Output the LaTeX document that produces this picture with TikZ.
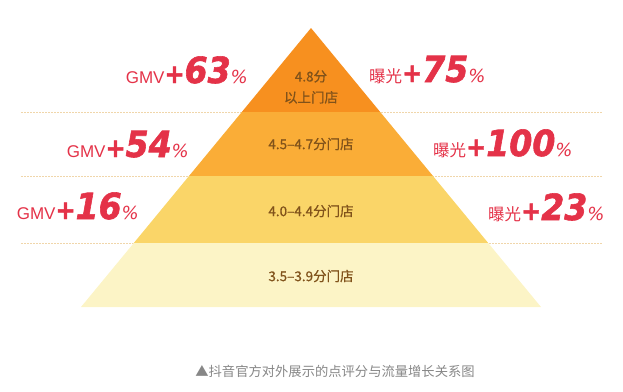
\documentclass[tikz,border=0pt]{standalone}
\usepackage{fontspec}
\usepackage{tikz}
\setmainfont{Noto Sans CJK SC}
\newfontfamily\tierfont{Noto Sans CJK SC}[FakeBold=0.6]
\newfontfamily\latinfont{Liberation Sans}
\newfontfamily\numfont{DejaVu Sans Bold Oblique}[FakeBold=1.6, FakeStretch=0.92]
\newfontfamily\pctfont{DejaVu Sans Oblique}

\definecolor{gainred}{RGB}{228,50,72}
\definecolor{tierA}{RGB}{247,144,31}
\definecolor{tierB}{RGB}{250,173,55}
\definecolor{tierC}{RGB}{250,213,104}
\definecolor{tierD}{RGB}{252,244,198}
\definecolor{tiertext}{RGB}{128,82,26}
\definecolor{guideline}{RGB}{240,214,170}
\definecolor{captiongray}{RGB}{135,135,135}

% growth label: prefix, number
\newcommand\gain[2]{{\color{gainred}#1{\numfont\fontsize{26}{26}\selectfont+}%
{\numfont\fontsize{36}{36}\selectfont#2}%
{\pctfont\fontsize{18}{18}\selectfont\%}}}

\tikzset{
  guide/.style={draw=guideline, line width=1pt, dash pattern=on 1.5pt off 1.5pt},
  tierlabel/.style={text=tiertext, font=\tierfont\fontsize{13.5}{21}\selectfont, align=center, inner sep=0pt},
  gmv/.style={anchor=base east, inner sep=0pt},
  view/.style={anchor=base west, inner sep=0pt}
}

\begin{document}
\begin{tikzpicture}[x=1pt,y=-1pt]
\useasboundingbox (0,0) rectangle (623,391);

% pyramid corners
\coordinate (apex) at (311,28);
\coordinate (l1) at (241.8,112); \coordinate (r1) at (380.2,112);
\coordinate (l2) at (189,176);   \coordinate (r2) at (433,176);
\coordinate (l3) at (133.8,243); \coordinate (r3) at (488.2,243);
\coordinate (l4) at (81,307);    \coordinate (r4) at (541,307);

% dotted guides
\foreach \y in {112,176,243}
  \draw[guide] (21,\y) -- (602,\y);

% tiers
\fill[tierA] (apex) -- (l1) -- (r1) -- cycle;
\fill[tierB] (l1) -- (l2) -- (r2) -- (r1) -- cycle;
\fill[tierC] (l2) -- (l3) -- (r3) -- (r2) -- cycle;
\fill[tierD] (l3) -- (l4) -- (r4) -- (r3) -- cycle;

\node[tierlabel] (TOP) at (311,87) {4.8分\\以上门店};
\node[tierlabel] (HIGH) at (311,144) {4.5–4.7分门店};
\node[tierlabel] (MID) at (311,211) {4.0–4.4分门店};
\node[tierlabel] (LOW) at (311,276) {3.5–3.9分门店};

\node[gmv] (GMVTOP) at (248,83) {\gain{{\latinfont\fontsize{17}{17}\selectfont GMV}}{63}};
\node[gmv] (GMVHIGH) at (189,157) {\gain{{\latinfont\fontsize{17}{17}\selectfont GMV}}{54}};
\node[gmv] (GMVMID) at (139,219) {\gain{{\latinfont\fontsize{17}{17}\selectfont GMV}}{16}};

\node[view] (VIEWTOP) at (369,82) {\gain{{\fontsize{16.5}{16.5}\selectfont 曝光}}{75}};
\node[view] (VIEWHIGH) at (433,156) {\gain{{\fontsize{16.5}{16.5}\selectfont 曝光}}{100}};
\node[view] (VIEWMID) at (488,220) {\gain{{\fontsize{16.5}{16.5}\selectfont 曝光}}{23}};

\node[text=captiongray, font=\fontsize{13.3}{13.3}\selectfont] (CAPTION) at (335,371) {▲抖音官方对外展示的点评分与流量增长关系图};
\end{tikzpicture}
\end{document}
